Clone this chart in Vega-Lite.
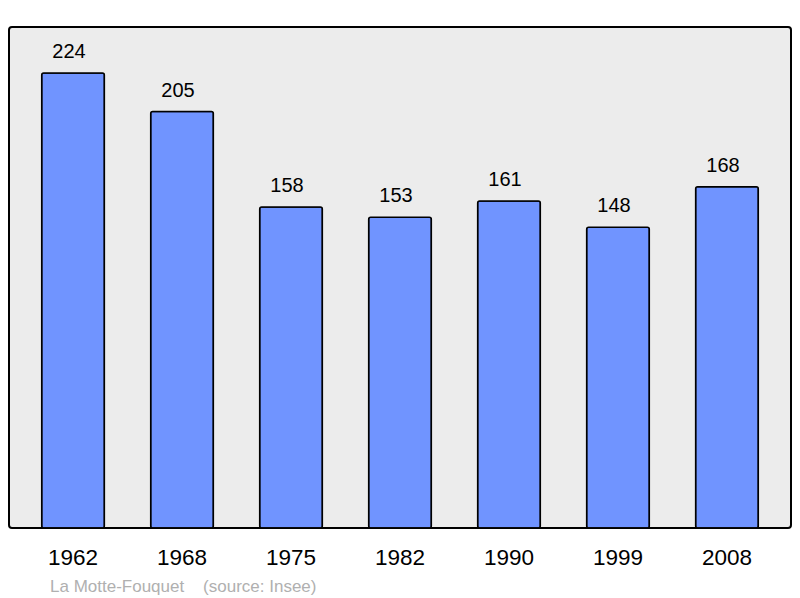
{
  "$schema": "https://vega.github.io/schema/vega-lite/v6.json",
  "width": 782,
  "height": 501,
  "autosize": {"type": "none"},
  "padding": {"left": 9, "top": 27, "right": 9, "bottom": 70},
  "background": "white",
  "config": {
    "view": {"fill": "#ececec", "stroke": "#000000", "strokeWidth": 2, "cornerRadius": 3},
    "font": "Liberation Sans"
  },
  "title": {
    "text": "La Motte-Fouquet\u00a0\u00a0\u00a0\u00a0(source: Insee)",
    "orient": "bottom",
    "anchor": "start",
    "dx": 41,
    "offset": 10,
    "color": "#b0b0b0",
    "fontSize": 17,
    "fontWeight": "normal",
    "font": "Liberation Sans"
  },
  "data": {
    "values": [
      {"year": "1962", "pop": 224},
      {"year": "1968", "pop": 205},
      {"year": "1975", "pop": 158},
      {"year": "1982", "pop": 153},
      {"year": "1990", "pop": 161},
      {"year": "1999", "pop": 148},
      {"year": "2008", "pop": 168}
    ]
  },
  "encoding": {
    "x": {
      "field": "year",
      "type": "nominal",
      "sort": null,
      "scale": {"paddingInner": 0.425, "paddingOuter": 0.3},
      "axis": {
        "title": null,
        "domain": false,
        "ticks": false,
        "tickSize": 0,
        "labelAngle": 0,
        "labelFontSize": 22.5,
        "labelColor": "#000000",
        "labelPadding": 18,
        "labelFont": "Liberation Sans"
      }
    },
    "y": {
      "field": "pop",
      "type": "quantitative",
      "scale": {"domain": [0, 246.6], "nice": false, "zero": true},
      "axis": null
    }
  },
  "layer": [
    {
      "mark": {"type": "bar", "fill": "#7094ff", "stroke": "#000000", "strokeWidth": 1.5, "cornerRadius": 2}
    },
    {
      "mark": {"type": "text", "baseline": "alphabetic", "dy": -15, "dx": -4, "fontSize": 20, "color": "#000000", "font": "Liberation Sans"},
      "encoding": {"text": {"field": "pop", "type": "quantitative"}}
    }
  ]
}
